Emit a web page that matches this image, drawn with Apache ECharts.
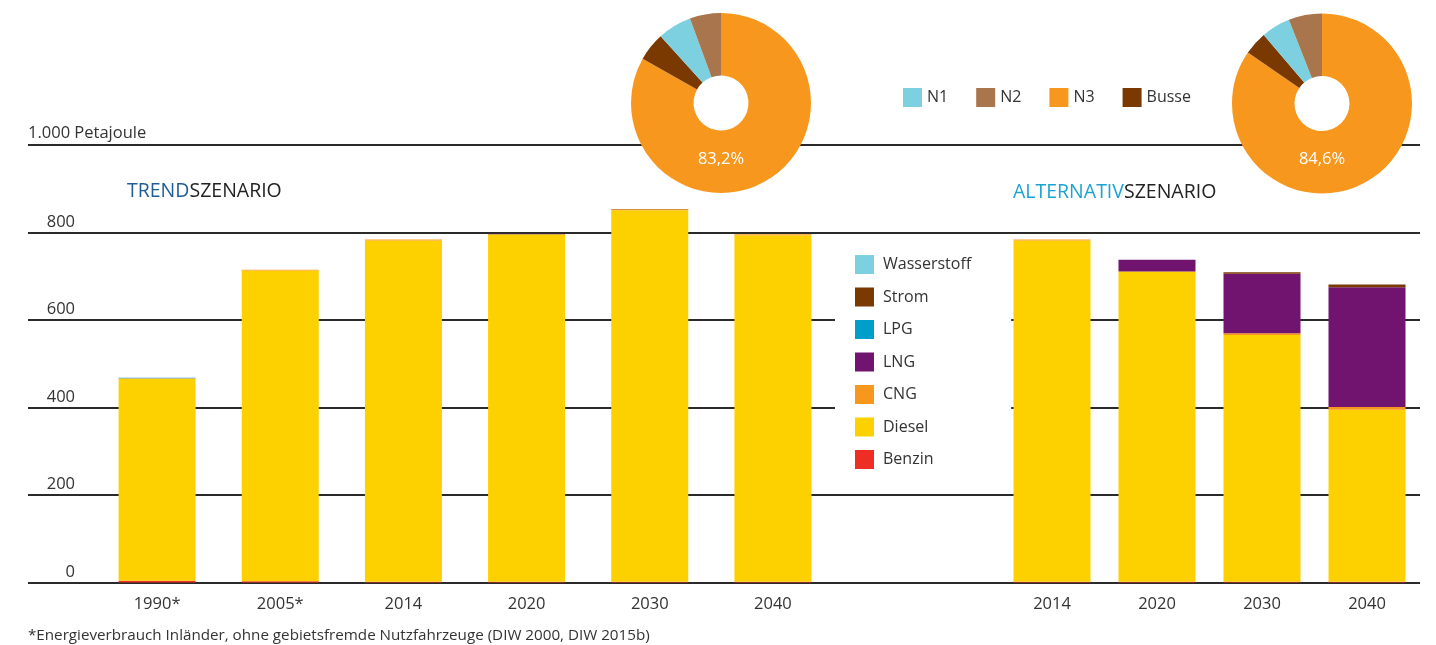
<!DOCTYPE html>
<html>
<head>
<meta charset="utf-8">
<script src="https://cdn.jsdelivr.net/npm/echarts@6/dist/echarts.min.js"></script>
<style>html,body{margin:0;padding:0;background:#fff;}#c{width:1436px;height:645px;}</style>
</head>
<body>
<div id="c"></div>
<script>
// ---- data ----
const trendCategories = ['1990*', '2005*', '2014', '2020', '2030', '2040'];
const trendBenzin      = [4, 3, 2, 2, 2, 2];
const trendDiesel      = [462, 710, 780, 794, 849, 792];
const trendCNG         = [1, 2, 2, 0, 2, 2];
const trendLNG         = [0, 0, 0, 1, 0, 0];
const trendLPG         = [1, 0, 0, 0, 0, 0];
const trendStrom       = [0, 0, 0, 0, 1, 0];
const trendWasserstoff = [0, 0, 0, 0, 0, 0];

const altCategories  = ['2014', '2020', '2030', '2040'];
const altBenzin      = [2, 2, 2, 2];
const altDiesel      = [780, 709, 564, 393];
const altCNG         = [2, 0, 4, 6];
const altLNG         = [0, 27, 136, 274];
const altLPG         = [0, 0, 0, 0];
const altStrom       = [0, 0, 3, 6];
const altWasserstoff = [0, 0, 0, 0];

const pieNames      = ['N1', 'N2', 'N3', 'Busse'];
const pieTrendShare = [6.1, 5.6, 83.2, 5.1];
const pieAltShare   = [5.2, 6.0, 84.6, 4.2];
const pieTrendLabel = '83,2%';
const pieAltLabel   = '84,6%';

const yTicks = [0, 200, 400, 600, 800, 1000];
const yUnitLabel = '1.000 Petajoule';
const footnote = '*Energieverbrauch Inländer, ohne gebietsfremde Nutzfahrzeuge (DIW 2000, DIW 2015b)';

// ---- styles ----
const FONT = 'Open Sans';
const TXT = '#333333';
const colors = {
  Wasserstoff: '#7dd0df', Strom: '#7a3900', LPG: '#009fcb', LNG: '#701470',
  CNG: '#f7971e', Diesel: '#fdd100', Benzin: '#ee2e24',
  N1: '#7dd0df', N2: '#a8754c', N3: '#f7971e', Busse: '#7a3900'
};

const chart = echarts.init(document.getElementById('c'), null, {renderer: 'canvas'});

function barSeries(xi, stack, sets) {
  return sets.map(([name, data]) => ({
    type: 'bar', name, data, stack, xAxisIndex: xi, yAxisIndex: xi,
    barWidth: 77, itemStyle: {color: colors[name]}, silent: true,
    emphasis: {disabled: true}
  }));
}

function pieData(shares) {
  const order = ['N3', 'Busse', 'N1', 'N2'];
  return order.map(n => ({name: n, value: shares[pieNames.indexOf(n)], itemStyle: {color: colors[n]}}));
}

const series = [
  ...barSeries(1, 'trend', [['Benzin', trendBenzin], ['Diesel', trendDiesel], ['CNG', trendCNG], ['LNG', trendLNG], ['LPG', trendLPG], ['Strom', trendStrom], ['Wasserstoff', trendWasserstoff]]),
  ...barSeries(2, 'alt', [['Benzin', altBenzin], ['Diesel', altDiesel], ['CNG', altCNG], ['LNG', altLNG], ['LPG', altLPG], ['Strom', altStrom], ['Wasserstoff', altWasserstoff]]),
  {type: 'pie', center: [721, 103], radius: [27.5, 90], startAngle: 90, clockwise: true,
   label: {show: false}, labelLine: {show: false}, silent: true, emphasis: {disabled: true},
   data: pieData(pieTrendShare)},
  {type: 'pie', center: [1322, 103.5], radius: [27.5, 90], startAngle: 90, clockwise: true,
   label: {show: false}, labelLine: {show: false}, silent: true, emphasis: {disabled: true},
   data: pieData(pieAltShare)}
];

const titleRich = (c) => ({
  a: {color: c, fontSize: 19.5, fontFamily: FONT, fontWeight: 'normal'},
  b: {color: '#222', fontSize: 19.5, fontFamily: FONT, fontWeight: 'normal'}
});

const option = {
  animation: false,
  textStyle: {fontFamily: FONT},
  title: [
    {left: 127, top: 181, padding: 0, text: '{a|TREND}{b|SZENARIO}', textStyle: {fontWeight: 'normal', rich: titleRich('#1f5c97')}},
    {left: 1013, top: 182, padding: 0, text: '{a|ALTERNATIV}{b|SZENARIO}', textStyle: {fontWeight: 'normal', rich: titleRich('#1ba3d2')}}
  ],
  legend: [
    {data: pieNames, orient: 'horizontal', left: 903, top: 88, padding: 0,
     itemWidth: 19, itemHeight: 19, itemGap: 28, icon: 'rect', selectedMode: false,
     textStyle: {fontSize: 16, color: TXT, fontFamily: FONT}},
    {data: ['Wasserstoff', 'Strom', 'LPG', 'LNG', 'CNG', 'Diesel', 'Benzin'], orient: 'vertical',
     left: 835, top: 248, padding: [7, 40, 8, 20], backgroundColor: '#ffffff',
     itemWidth: 19, itemHeight: 19, itemGap: 13.5, icon: 'rect', selectedMode: false,
     textStyle: {fontSize: 16, color: TXT, fontFamily: FONT, lineHeight: 19, padding: [0, 0, 0, 4]}}
  ],
  grid: [
    {left: 28, right: 16, top: 145, height: 437.5},
    {left: 95.5, width: 739, top: 145, height: 437.5},
    {left: 999.5, width: 420, top: 145, height: 437.5}
  ],
  xAxis: [
    {gridIndex: 0, type: 'value', min: 0, max: 1, show: false},
    {gridIndex: 1, type: 'category', data: trendCategories,
     axisLine: {show: false}, axisTick: {show: false},
     axisLabel: {margin: 13, fontSize: 16.5, color: TXT, fontFamily: FONT}},
    {gridIndex: 2, type: 'category', data: altCategories,
     axisLine: {show: false}, axisTick: {show: false},
     axisLabel: {margin: 13, fontSize: 16.5, color: TXT, fontFamily: FONT}}
  ],
  yAxis: [
    {gridIndex: 0, type: 'value', min: yTicks[0], max: yTicks[yTicks.length - 1], interval: 200,
     name: yUnitLabel, nameLocation: 'end', nameGap: 3,
     nameTextStyle: {align: 'left', verticalAlign: 'bottom', fontSize: 16.5, color: TXT, fontFamily: FONT},
     axisLine: {show: false}, axisTick: {show: false},
     splitLine: {show: true, lineStyle: {color: '#2a2a2a', width: 2}},
     axisLabel: {inside: true, margin: 47, align: 'right', verticalAlign: 'bottom',
       padding: [0, 0, 2, 0], fontSize: 16.5, color: TXT, fontFamily: FONT,
       formatter: v => (v === 1000 ? '' : String(v))}},
    {gridIndex: 1, type: 'value', min: 0, max: 1000, show: false, splitLine: {show: false}},
    {gridIndex: 2, type: 'value', min: 0, max: 1000, show: false, splitLine: {show: false}}
  ],
  graphic: [
    {type: 'text', x: 721, y: 159, z: 100, style: {text: pieTrendLabel, fill: '#fff', font: '16.5px "Open Sans"', align: 'center', verticalAlign: 'middle'}},
    {type: 'text', x: 1322, y: 159, z: 100, style: {text: pieAltLabel, fill: '#fff', font: '16.5px "Open Sans"', align: 'center', verticalAlign: 'middle'}},
    {type: 'text', x: 28, y: 636, style: {text: footnote, fill: TXT, font: '15.2px "Open Sans"', align: 'left', verticalAlign: 'middle'}}
  ],
  series
};
chart.setOption(option);
</script>
</body>
</html>
